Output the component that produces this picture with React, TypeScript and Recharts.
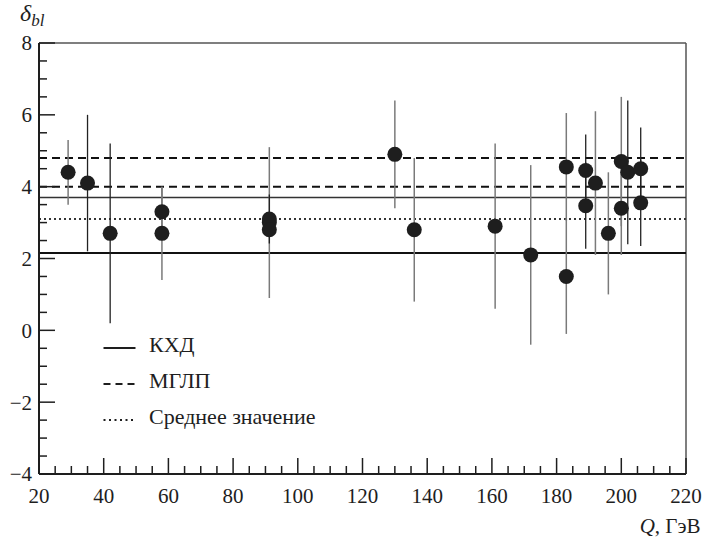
import React from 'react';
import { ComposedChart, Scatter, XAxis, YAxis, ReferenceLine, ErrorBar, Legend } from 'recharts';

// Measurements with grey error bars
const qGray = [29, 58, 58, 91.2, 130, 136, 161, 172, 183, 183, 192, 196, 200, 200];
const deltaGray = [4.4, 3.3, 2.7, 3.0, 4.9, 2.8, 2.9, 2.1, 4.55, 1.5, 4.1, 2.7, 4.7, 3.4];
const errGray = [0.9, 0.7, 1.3, 2.1, 1.5, 2.0, 2.3, 2.5, 1.5, 1.6, 2.0, 1.7, 1.8, 1.3];

// Measurements with dark error bars
const qDark = [35, 42, 91.2, 91.2, 189, 189, 202, 206, 206];
const deltaDark = [4.1, 2.7, 3.1, 2.8, 4.45, 3.47, 4.4, 4.5, 3.55];
const errDark = [1.9, 2.5, 0.68, 0, 1.0, 1.2, 2.0, 1.15, 1.2];

// Reference levels
const qcdLevels = [3.7, 2.15];
const mllaLevels = [4.8, 4.0];
const meanLevel = 3.1;

// Axes
const xMajorTicks = [20, 40, 60, 80, 100, 120, 140, 160, 180, 200, 220];
const yMajorTicks = [-4, -2, 0, 2, 4, 6, 8];
const xMinorStep = 5;
const yMinorStep = 0.5;

const legendLabels = ['КХД', 'МГЛП', 'Среднее значение'];

const FONT = '"Liberation Serif", "DejaVu Serif", serif';
const INK = '#1e1e1e';

const xTicks: number[] = [];
for (let v = 20; v <= 220; v += xMinorStep) xTicks.push(v);
const yTicks: number[] = [];
for (let v = -4; v <= 8 + 1e-9; v += yMinorStep) yTicks.push(Math.round(v * 10) / 10);

const grayData = qGray.map((q, i) => ({ q, d: deltaGray[i], e: errGray[i] }));
const darkData = qDark.map((q, i) => ({ q, d: deltaDark[i], e: errDark[i] }));

const fmt = (v: number) => (v < 0 ? '\u2212' + Math.abs(v) : String(v));

const textStyle = { fontFamily: FONT, fontSize: 21, fill: INK } as React.CSSProperties;

const YTick = (props: any) => {
  const { x, y, payload } = props;
  const v = payload.value;
  const major = yMajorTicks.includes(v);
  return (
    <g>
      <line x1={x} x2={x + (major ? 16 : 8)} y1={y} y2={y} stroke={INK} strokeWidth={1.5} />
      {major && (
        <text x={x - 7} y={y} dy="0.35em" textAnchor="end" style={textStyle}>
          {fmt(v)}
        </text>
      )}
    </g>
  );
};

const XTick = (props: any) => {
  const { x, y, payload } = props;
  const v = payload.value;
  const major = xMajorTicks.includes(v);
  return (
    <g>
      <line x1={x} x2={x} y1={y} y2={y - (major ? 16 : 8)} stroke={INK} strokeWidth={1.5} />
      {major && (
        <text x={x} y={y + 28.5} textAnchor="middle" style={textStyle}>
          {fmt(v)}
        </text>
      )}
    </g>
  );
};

const Dot = (props: any) => {
  const { cx, cy } = props;
  if (cx == null || cy == null) return null;
  return <circle cx={cx} cy={cy} r={7.5} fill={INK} />;
};

const YLabel = (props: any) => {
  const vb = props.viewBox || { x: 0, y: 43 };
  return (
    <text x={vb.x + 20} y={vb.y - 22} style={{ ...textStyle, fontSize: 24, fontStyle: 'italic' }}>
      δ
      <tspan style={{ fontSize: 17 }} dy={5}>bl</tspan>
    </text>
  );
};

const XLabel = (props: any) => {
  const vb = props.viewBox || { x: 39, y: 474, width: 647 };
  return (
    <text x={vb.x + vb.width + 14.5} y={vb.y + 58.5} textAnchor="end" style={textStyle}>
      <tspan style={{ fontStyle: 'italic' }}>Q</tspan>, ГэВ
    </text>
  );
};

const LegendBox = () => {
  const rows = [18, 54, 90];
  const dashes = [undefined, '7 5', '2 3.5'];
  return (
    <svg width={240} height={100} style={{ display: 'block', overflow: 'visible' }}>
      {legendLabels.map((lab, i) => (
        <g key={lab}>
          <line x1={3.5} x2={35.5} y1={rows[i]} y2={rows[i]} stroke={INK} strokeWidth={i === 0 ? 2 : 1.8} strokeDasharray={dashes[i]} />
          <text x={49} y={rows[i] + 4} style={{ ...textStyle, fontSize: 22 }}>
            {lab}
          </text>
        </g>
      ))}
    </svg>
  );
};

export default function App() {
  return (
    <div style={{ position: 'absolute', left: 0, top: 0, width: 702, height: 543, background: '#fff' }}>
      <ComposedChart width={702} height={543} margin={{ top: 43, right: 16, bottom: 0, left: 0 }}>
        <XAxis
          type="number"
          dataKey="q"
          domain={[20, 220]}
          ticks={xTicks}
          interval={0}
          height={69}
          tickSize={0}
          tickMargin={0}
          tickLine={false}
          axisLine={{ stroke: INK, strokeWidth: 2 }}
          tick={<XTick />}
          label={<XLabel />}
          allowDataOverflow
        />
        <YAxis
          type="number"
          dataKey="d"
          domain={[-4, 8]}
          ticks={yTicks}
          interval={0}
          width={39}
          tickSize={0}
          tickMargin={0}
          tickLine={false}
          axisLine={{ stroke: INK, strokeWidth: 2 }}
          tick={<YTick />}
          label={<YLabel />}
          allowDataOverflow
        />
        <ReferenceLine y={8} stroke="#555" strokeWidth={1.5} />
        <ReferenceLine x={220} stroke="#555" strokeWidth={1.5} />
        <ReferenceLine y={qcdLevels[0]} stroke="#333" strokeWidth={1.5} />
        <ReferenceLine y={qcdLevels[1]} stroke="#111" strokeWidth={2} />
        <ReferenceLine y={mllaLevels[0]} stroke="#111" strokeWidth={2} strokeDasharray="8 5" />
        <ReferenceLine y={mllaLevels[1]} stroke="#111" strokeWidth={2} strokeDasharray="8 5" />
        <ReferenceLine y={meanLevel} stroke="#333" strokeWidth={2} strokeDasharray="2 3" />
        <Scatter data={grayData} dataKey="d" shape={<Dot />} isAnimationActive={false}>
          <ErrorBar dataKey="e" direction="y" width={0} stroke="#7a7a7a" strokeWidth={1.5} isAnimationActive={false} />
        </Scatter>
        <Scatter data={darkData} dataKey="d" shape={<Dot />} isAnimationActive={false}>
          <ErrorBar dataKey="e" direction="y" width={0} stroke="#222" strokeWidth={1.3} isAnimationActive={false} />
        </Scatter>
        <Legend
          content={<LegendBox />}
          layout="horizontal"
          verticalAlign="middle"
          align="center"
          wrapperStyle={{ left: 100, top: 330, width: 240, height: 100 }}
        />
      </ComposedChart>
    </div>
  );
}
